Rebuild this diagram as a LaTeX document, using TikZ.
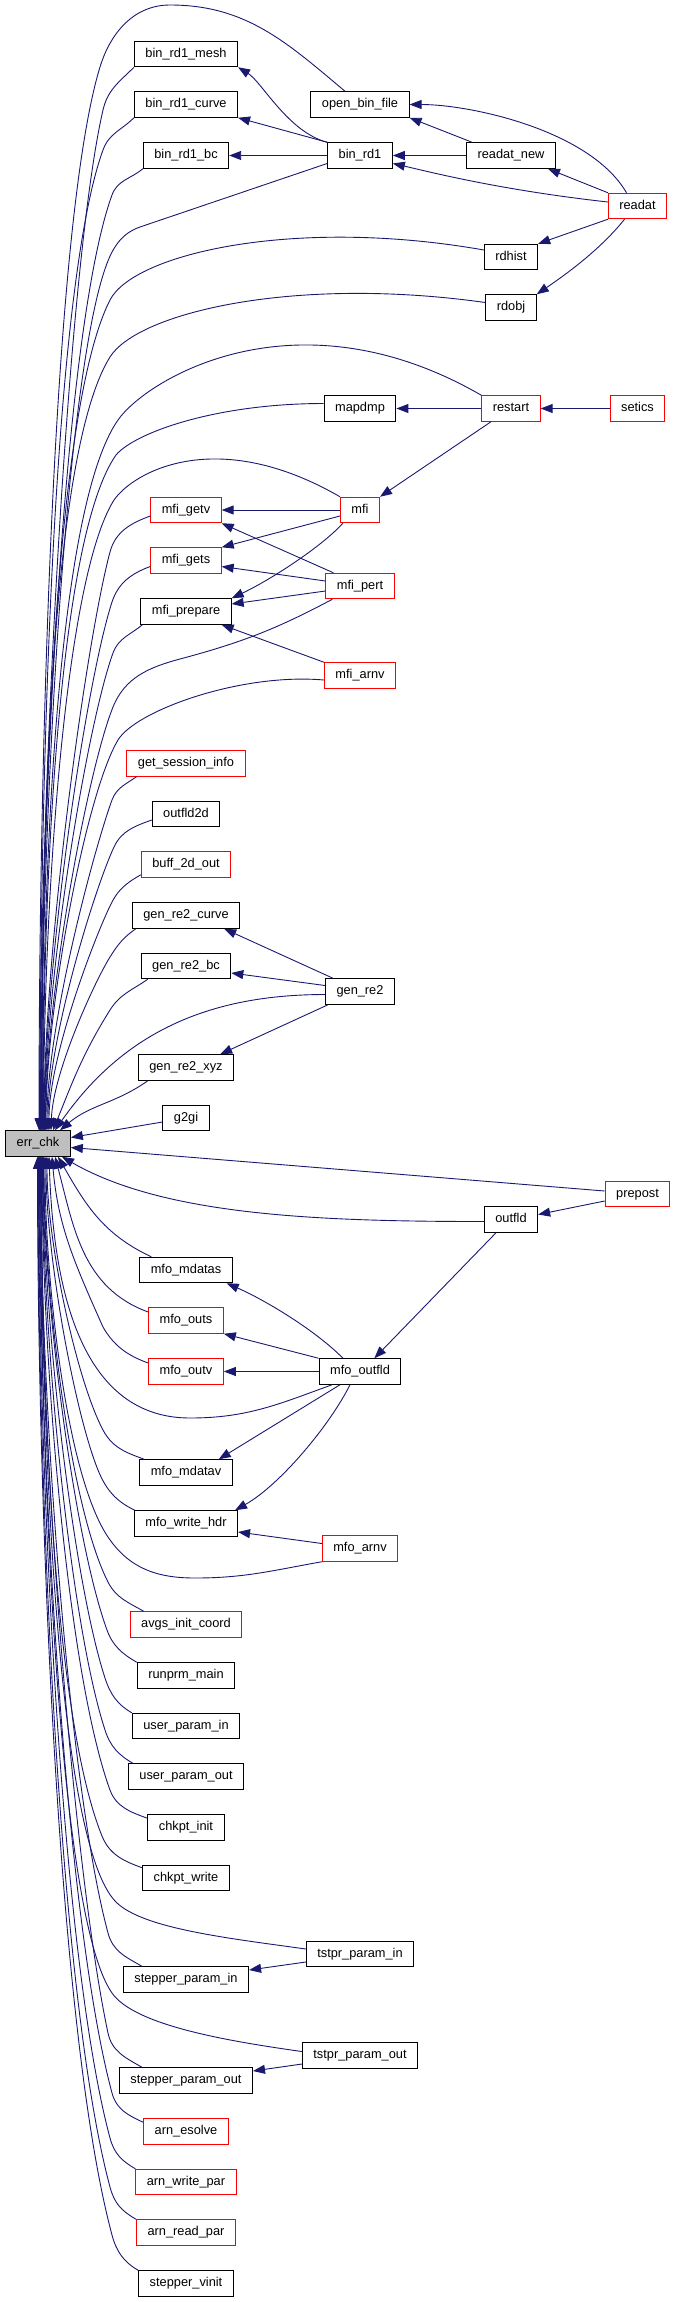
\documentclass[tikz,border=0pt]{standalone}
\usepackage{fontspec}
\newfontfamily\lsans{Liberation Sans}
\usetikzlibrary{arrows.meta}
\definecolor{edgeblue}{HTML}{191970}
\definecolor{nodered}{HTML}{FF0000}
\definecolor{rootgray}{HTML}{BFBFBF}
\begin{document}
\begin{tikzpicture}[x=1pt,y=-1pt,
  fn/.style={draw=black, line width=1pt, fill=white, minimum height=25.5pt, inner xsep=11pt, inner ysep=0pt,
     text height=9.2pt, text depth=2.8pt, font=\lsans\fontsize{12.8pt}{15pt}\selectfont},
  redfn/.style={fn, draw=nodered},
  rootfn/.style={fn, fill=rootgray},
  edge/.style={draw=edgeblue, line width=0.9pt, -{Triangle[length=12pt,width=9pt]}},
]
\useasboundingbox (0,0) rectangle (672,2302);

% ---------------- nodes ----------------
\node[fn] (bin_rd1_mesh) at (186,54) {bin\_rd1\_mesh};
\node[fn] (bin_rd1_curve) at (186,104.5) {bin\_rd1\_curve};
\node[fn] (bin_rd1_bc) at (186,155.5) {bin\_rd1\_bc};
\node[fn] (open_bin_file) at (360,104.5) {open\_bin\_file};
\node[fn] (bin_rd1) at (360,155.5) {bin\_rd1};
\node[fn] (readat_new) at (511,155.5) {readat\_new};
\node[redfn] (readat) at (637.5,206) {readat};
\node[fn] (rdhist) at (511,257) {rdhist};
\node[fn] (rdobj) at (511,307.5) {rdobj};
\node[fn] (mapdmp) at (360,408.5) {mapdmp};
\node[redfn] (restart) at (511,408.5) {restart};
\node[redfn] (setics) at (637.5,408.5) {setics};
\node[redfn] (mfi_getv) at (186,510) {mfi\_getv};
\node[redfn] (mfi) at (360,510) {mfi};
\node[redfn] (mfi_gets) at (186,560.5) {mfi\_gets};
\node[redfn] (mfi_pert) at (360,586) {mfi\_pert};
\node[fn] (mfi_prepare) at (186,611.5) {mfi\_prepare};
\node[redfn] (mfi_arnv) at (360,675.5) {mfi\_arnv};
\node[redfn] (get_session_info) at (186,763.5) {get\_session\_info};
\node[fn] (outfld2d) at (186,814) {outfld2d};
\node[redfn] (buff_2d_out) at (186,864.5) {buff\_2d\_out};
\node[fn] (gen_re2_curve) at (186,915.5) {gen\_re2\_curve};
\node[fn] (gen_re2_bc) at (186,966) {gen\_re2\_bc};
\node[fn] (gen_re2) at (360,991.5) {gen\_re2};
\node[fn] (gen_re2_xyz) at (186,1067.5) {gen\_re2\_xyz};
\node[fn] (g2gi) at (186,1118) {g2gi};
\node[rootfn] (err_chk) at (38,1143.5) {err\_chk};
\node[redfn] (prepost) at (637.5,1194) {prepost};
\node[fn] (outfld) at (511,1219.5) {outfld};
\node[fn] (mfo_mdatas) at (186,1270) {mfo\_mdatas};
\node[redfn] (mfo_outs) at (186,1320.5) {mfo\_outs};
\node[redfn] (mfo_outv) at (186,1371.5) {mfo\_outv};
\node[fn] (mfo_outfld) at (360,1371.5) {mfo\_outfld};
\node[fn] (mfo_mdatav) at (186,1472.5) {mfo\_mdatav};
\node[fn] (mfo_write_hdr) at (186,1523.5) {mfo\_write\_hdr};
\node[redfn] (mfo_arnv) at (360,1548.5) {mfo\_arnv};
\node[redfn] (avgs_init_coord) at (186,1624.5) {avgs\_init\_coord};
\node[fn] (runprm_main) at (186,1675.5) {runprm\_main};
\node[fn] (user_param_in) at (186,1726) {user\_param\_in};
\node[fn] (user_param_out) at (186,1776.5) {user\_param\_out};
\node[fn] (chkpt_init) at (186,1827.5) {chkpt\_init};
\node[fn] (chkpt_write) at (186,1878) {chkpt\_write};
\node[fn] (tstpr_param_in) at (360,1954) {tstpr\_param\_in};
\node[fn] (stepper_param_in) at (186,1979.5) {stepper\_param\_in};
\node[fn] (tstpr_param_out) at (360,2055.5) {tstpr\_param\_out};
\node[fn] (stepper_param_out) at (186,2080.5) {stepper\_param\_out};
\node[redfn] (arn_esolve) at (186,2131.5) {arn\_esolve};
\node[redfn] (arn_write_par) at (186,2182) {arn\_write\_par};
\node[redfn] (arn_read_par) at (186,2232.5) {arn\_read\_par};
\node[fn] (stepper_vinit) at (186,2283.5) {stepper\_vinit};

% ---------------- edges between callers ----------------
\draw[edge] (bin_rd1.north west) .. controls (288,132) and (262,82) .. (bin_rd1_mesh.south east);
\draw[edge] (bin_rd1.north west) -- (bin_rd1_curve.south east);
\draw[edge] (bin_rd1.west) -- (bin_rd1_bc.east);
\draw[edge] ([xshift=6]readat_new.north west) -- (open_bin_file.south east);
\draw[edge] (readat_new.west) -- (bin_rd1.east);
\draw[edge] ([xshift=-11]readat.north) .. controls (590,130) and (470,104.5) .. (open_bin_file.east);
\draw[edge] (readat.north west) -- ([xshift=-8]readat_new.south east);
\draw[edge] ([yshift=4]readat.west) .. controls (500,190) and (430,172) .. ([yshift=-8]bin_rd1.east);
\draw[edge] (readat.south west) -- (rdhist.north east);
\draw[edge] ([xshift=-13]readat.south) .. controls (600,250) and (565,275) .. (rdobj.north east);
\draw[edge] (restart.west) -- (mapdmp.east);
\draw[edge] (setics.west) -- (restart.east);
\draw[edge] ([xshift=-20]restart.south) -- (mfi.north east);
\draw[edge] (mfi.west) -- (mfi_getv.east);
\draw[edge] ([yshift=-6]mfi.west) -- (mfi_gets.north east);
\draw[edge] ([xshift=3]mfi.south west) .. controls (320,548) and (270,580) .. (mfi_prepare.north east);
\draw[edge] ([xshift=8]mfi_pert.north west) -- (mfi_getv.south east);
\draw[edge] ([yshift=5]mfi_pert.west) -- ([yshift=-6]mfi_gets.east);
\draw[edge] ([yshift=-5]mfi_pert.west) -- ([yshift=7.5]mfi_prepare.east);
\draw[edge] (mfi_arnv.north west) -- ([xshift=-10]mfi_prepare.south east);
\draw[edge] ([xshift=8]gen_re2.north west) -- ([xshift=-16]gen_re2_curve.south east);
\draw[edge] ([yshift=6]gen_re2.west) -- ([yshift=-7]gen_re2_bc.east);
\draw[edge] ([xshift=3]gen_re2.south west) -- ([xshift=-14]gen_re2_xyz.north east);
\draw[edge] ([yshift=-7]prepost.west) -- ([yshift=5]outfld.east);
\draw[edge] ([xshift=-15]outfld.south) -- ([xshift=-27]mfo_outfld.north east);
\draw[edge] ([xshift=-17]mfo_outfld.north) .. controls (315,1330) and (265,1300) .. ([xshift=-6]mfo_mdatas.south east);
\draw[edge] (mfo_outfld.north west) -- (mfo_outs.south east);
\draw[edge] (mfo_outfld.west) -- (mfo_outv.east);
\draw[edge] ([xshift=-20]mfo_outfld.south) -- ([xshift=-14]mfo_mdatav.north east);
\draw[edge] ([xshift=-10]mfo_outfld.south) .. controls (330,1425) and (280,1485) .. ([xshift=-3]mfo_write_hdr.north east);
\draw[edge] ([yshift=5]mfo_arnv.west) -- ([yshift=-8.5]mfo_write_hdr.east);
\draw[edge] ([yshift=-8]tstpr_param_in.west) -- ([yshift=9.5]stepper_param_in.east);
\draw[edge] ([yshift=-8.5]tstpr_param_out.west) -- ([yshift=9.5]stepper_param_out.east);

% ---------------- edges into err_chk from above ----------------
\draw[edge] ([xshift=-15]open_bin_file.north) .. controls +(140:76pt) and +(0:76pt) .. (170,5)
  .. controls +(180:36pt) and +(73:36pt) .. (100,67)
  .. controls +(253:167pt) and +(90:334pt) .. ([xshift=1]err_chk.north);
\draw[edge] (bin_rd1_mesh.south west) .. controls +(225:21pt) and +(77:21pt) .. (103,110)
  .. controls +(257:160pt) and +(90:320pt) .. ([xshift=1.5]err_chk.north);
\draw[edge] (bin_rd1_curve.south west) .. controls +(225:18pt) and +(70:18pt) .. (103,150)
  .. controls +(250:154pt) and +(90:308pt) .. ([xshift=2]err_chk.north);
\draw[edge] (bin_rd1_bc.south west) .. controls +(220:16pt) and +(70:16pt) .. (112,195)
  .. controls +(250:147pt) and +(90:294pt) .. ([xshift=2.5]err_chk.north);
\draw[edge] ([yshift=-8]bin_rd1.west) -- (140,227) .. controls +(199:22pt) and +(72:22pt) .. (104,272)
  .. controls +(252:135pt) and +(90:270pt) .. ([xshift=3]err_chk.north);
\draw[edge] ([yshift=7]rdhist.west) .. controls +(170:192pt) and +(63:52pt) .. (110,300)
  .. controls +(243:131pt) and +(90:261pt) .. ([xshift=3.5]err_chk.north);
\draw[edge] ([yshift=5]rdobj.west) .. controls +(172:194pt) and +(58:52pt) .. (110,357)
  .. controls +(238:122pt) and +(90:243pt) .. ([xshift=4]err_chk.north);
\draw[edge] (restart.north west) .. controls +(150:214pt) and +(55:50pt) .. (118,420)
  .. controls +(235:112pt) and +(90:224pt) .. ([xshift=4.5]err_chk.north);
\draw[edge] ([yshift=5]mapdmp.west) .. controls +(180:108pt) and +(50:29pt) .. (116,455)
  .. controls +(235:106pt) and +(90:213pt) .. ([xshift=5]err_chk.north);
\draw[edge] (mfi.north west) .. controls +(150:142pt) and +(55:35pt) .. (114,500)
  .. controls +(238:99pt) and +(90:199pt) .. ([xshift=5.5]err_chk.north);
\draw[edge] ([yshift=-6]mfi_getv.west) .. controls +(200:21pt) and +(75:21pt) .. (110,552)
  .. controls +(255:91pt) and +(90:183pt) .. ([xshift=6]err_chk.north);
\draw[edge] ([yshift=-6]mfi_gets.west) .. controls +(200:20pt) and +(72:20pt) .. (112,602)
  .. controls +(252:84pt) and +(90:167pt) .. ([xshift=6.5]err_chk.north);
\draw[edge] ([xshift=2]mfi_prepare.south west) .. controls +(220:16pt) and +(70:16pt) .. (113,653)
  .. controls +(250:76pt) and +(90:151pt) .. ([xshift=7]err_chk.north);
\draw[edge] ([xshift=7]mfi_pert.south west) .. controls +(208:64pt) and +(15:64pt) .. (180,659)
  .. controls +(195:32pt) and +(68:32pt) .. (113,707)
  .. controls +(248:67pt) and +(90:134pt) .. ([xshift=7.5]err_chk.north);
\draw[edge] ([yshift=-4.5]mfi_arnv.west) .. controls +(175:84pt) and +(59:34pt) .. (118,740)
  .. controls +(239:62pt) and +(90:124pt) .. ([xshift=8]err_chk.north);
\draw[edge] ([xshift=10]get_session_info.south west) .. controls +(215:13pt) and +(70:13pt) .. (112,800)
  .. controls +(250:53pt) and +(90:106pt) .. ([xshift=9]err_chk.north);
\draw[edge] ([yshift=-6]outfld2d.west) .. controls +(200:18pt) and +(65:18pt) .. (114,847)
  .. controls +(245:46pt) and +(90:91pt) .. ([xshift=10]err_chk.north);
\draw[edge] ([yshift=3]buff_2d_out.south west) .. controls +(210:15pt) and +(63:15pt) .. (112,902)
  .. controls +(243:37pt) and +(90:74pt) .. ([xshift=11]err_chk.north);
\draw[edge] ([xshift=4]gen_re2_curve.south west) .. controls +(215:15pt) and +(58:15pt) .. (110,957)
  .. controls +(238:29pt) and +(88:58pt) .. ([xshift=13]err_chk.north);
\draw[edge] ([xshift=7]gen_re2_bc.south west) .. controls +(215:19pt) and +(58:19pt) .. (110,1010)
  .. controls +(238:52pt) and +(68:52pt) .. ([xshift=15]err_chk.north);
\draw[edge] ([yshift=-3]gen_re2.west) .. controls +(180:118pt) and +(55:118pt) .. ([xshift=17]err_chk.north);
\draw[edge] ([xshift=10]gen_re2_xyz.south west) .. controls +(215:40pt) and +(40:40pt) .. ([xshift=22]err_chk.north);

% ---------------- edges into err_chk from the side ----------------
\draw[edge] ([yshift=-4]g2gi.west) -- ([yshift=6]err_chk.east);
\draw[edge] ([yshift=3]prepost.west) -- ([yshift=-4]err_chk.east);

% ---------------- edges into err_chk from below ----------------
\draw[edge] ([yshift=-2]outfld.west) .. controls +(180:167pt) and +(-30:117pt) .. ([xshift=24]err_chk.south);
\draw[edge] ([xshift=12]mfo_mdatas.north west) .. controls +(155:54pt) and +(-60:54pt) .. ([xshift=20]err_chk.south);
\draw[edge] ([yshift=8.5]mfo_outs.west) .. controls +(160:71pt) and +(-75:71pt) .. ([xshift=17]err_chk.south);
\draw[edge] ([yshift=8.5]mfo_outv.west) .. controls +(160:22pt) and +(-60:22pt) .. (103,1327)
  .. controls +(114:70pt) and +(-85:70pt) .. ([xshift=14]err_chk.south);
\draw[edge] ([xshift=-28]mfo_outfld.south) .. controls +(200:57pt) and +(0:57pt) .. (190,1418)
  .. controls +(180:116pt) and +(-88:116pt) .. ([xshift=11]err_chk.south);
\draw[edge] ([xshift=5]mfo_mdatav.north west) .. controls +(160:20pt) and +(-62:20pt) .. (103,1430)
  .. controls +(118:55pt) and +(270:88pt) .. ([xshift=9]err_chk.south);
\draw[edge] ([xshift=1]mfo_write_hdr.north west) .. controls +(155:21pt) and +(-68:21pt) .. (98,1470)
  .. controls +(112:62pt) and +(270:100pt) .. ([xshift=8]err_chk.south);
\draw[edge] (mfo_arnv.south west) .. controls +(190:50pt) and +(0:50pt) .. (195,1578)
  .. controls +(180:38pt) and +(-56:38pt) .. (108,1537)
  .. controls +(124:76pt) and +(270:121pt) .. ([xshift=7]err_chk.south);
\draw[edge] ([xshift=14]avgs_init_coord.north west) .. controls +(150:18pt) and +(-63:18pt) .. (108,1582)
  .. controls +(117:84pt) and +(270:135pt) .. ([xshift=6]err_chk.south);
\draw[edge] (runprm_main.north west) .. controls +(150:17pt) and +(-70:17pt) .. (107,1630)
  .. controls +(110:94pt) and +(270:150pt) .. ([xshift=5.5]err_chk.south);
\draw[edge] (user_param_in.north west) .. controls +(150:17pt) and +(-72:17pt) .. (105,1678)
  .. controls +(108:103pt) and +(270:165pt) .. ([xshift=5]err_chk.south);
\draw[edge] ([xshift=5]user_param_out.north west) .. controls +(150:17pt) and +(-72:17pt) .. (105,1730)
  .. controls +(108:113pt) and +(270:181pt) .. ([xshift=4.5]err_chk.south);
\draw[edge] ([yshift=-4]chkpt_init.north west) .. controls +(160:18pt) and +(-70:18pt) .. (110,1790)
  .. controls +(110:125pt) and +(270:200pt) .. ([xshift=4]err_chk.south);
\draw[edge] ([yshift=-3]chkpt_write.north west) .. controls +(160:20pt) and +(-68:20pt) .. (102,1836)
  .. controls +(112:134pt) and +(270:214pt) .. ([xshift=3.5]err_chk.south);
\draw[edge] ([yshift=5]tstpr_param_in.west) .. controls +(172:76pt) and +(-45:38pt) .. (116,1902)
  .. controls +(135:88pt) and +(270:235pt) .. ([xshift=3]err_chk.south);
\draw[edge] ([xshift=19]stepper_param_in.north west) .. controls +(150:19pt) and +(-75:19pt) .. (108,1933)
  .. controls +(105:153pt) and +(270:244pt) .. ([xshift=2.5]err_chk.south);
\draw[edge] ([yshift=4]tstpr_param_out.west) .. controls +(172:78pt) and +(-55:39pt) .. (112,1993)
  .. controls +(125:99pt) and +(270:263pt) .. ([xshift=2]err_chk.south);
\draw[edge] ([xshift=23]stepper_param_out.north west) .. controls +(150:19pt) and +(-78:19pt) .. (108,2033)
  .. controls +(102:172pt) and +(270:275pt) .. ([xshift=1.5]err_chk.south);
\draw[edge] ([yshift=-4]arn_esolve.north west) .. controls +(155:17pt) and +(-75:17pt) .. (112,2093)
  .. controls +(105:184pt) and +(270:294pt) .. ([xshift=1]err_chk.south);
\draw[edge] (arn_write_par.north west) .. controls +(150:16pt) and +(-75:16pt) .. (110,2138)
  .. controls +(105:193pt) and +(270:308pt) .. ([xshift=0.5]err_chk.south);
\draw[edge] (arn_read_par.north west) .. controls +(150:17pt) and +(-75:17pt) .. (110,2187)
  .. controls +(105:202pt) and +(270:324pt) .. (err_chk.south);
\draw[edge] (stepper_vinit.north west) .. controls +(150:17pt) and +(-75:17pt) .. (112,2235)
  .. controls +(105:212pt) and +(270:339pt) .. ([xshift=-0.5]err_chk.south);
\end{tikzpicture}
\end{document}
